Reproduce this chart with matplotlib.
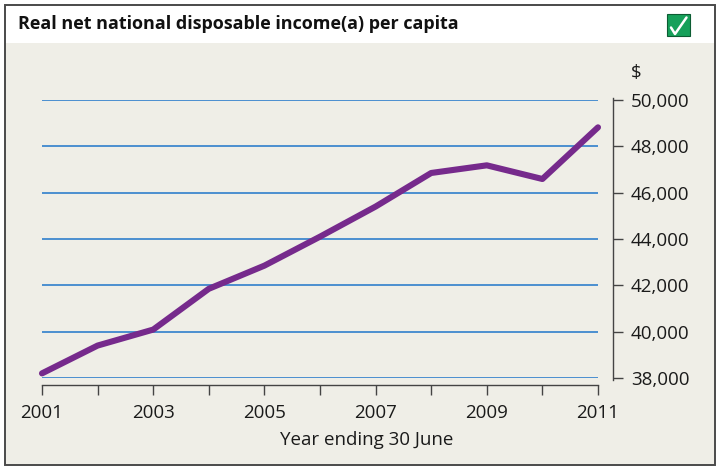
import matplotlib
matplotlib.use("Agg")
import matplotlib.pyplot as plt
from matplotlib.patches import Rectangle
from matplotlib.lines import Line2D

plt.rcParams['font.family'] = ['Open Sans', 'DejaVu Sans']

# Real net national disposable income per capita, year ending 30 June ($)
years = [2001, 2002, 2003, 2004, 2005, 2006, 2007, 2008, 2009, 2010, 2011]
income = [38200, 39400, 40090, 41850, 42850, 44100, 45400, 46850, 47180, 46590, 48820]
year_labels = ['2001', '', '2003', '', '2005', '', '2007', '', '2009', '', '2011']
y_ticks = [38000, 40000, 42000, 44000, 46000, 48000, 50000]

W, H = 718, 468
fig = plt.figure(figsize=(W / 100, H / 100), dpi=100)
fig.patch.set_facecolor('white')

def fx(px):
    return px / W

def fy(py):
    return 1 - py / H

# panel background and title band
fig.add_artist(Rectangle((fx(5), fy(465)), fx(710), (465 - 43) / H,
                         transform=fig.transFigure, facecolor='#efeee7',
                         edgecolor='none', zorder=0))
fig.add_artist(Rectangle((fx(5), fy(465)), fx(710), 460 / H,
                         transform=fig.transFigure, facecolor='none',
                         edgecolor='#4a4a4a', linewidth=1.4, zorder=5))

fig.text(fx(18), fy(24), 'Real net national disposable income(a) per capita',
         fontsize=13, fontweight='bold', color='#111111', va='center', ha='left')

# green tick box
fig.add_artist(Rectangle((fx(667), fy(36)), fx(23), 22 / H,
                         transform=fig.transFigure, facecolor='#16a05a',
                         edgecolor='#0c5c33', linewidth=0.8, zorder=6))
fig.add_artist(Line2D([fx(671), fx(675), fx(686.5)], [fy(27.5), fy(34), fy(17.5)],
                      transform=fig.transFigure, color='white', linewidth=1.8,
                      solid_capstyle='round', solid_joinstyle='round', zorder=7))

ax = fig.add_axes([fx(42), fy(378), fx(598 - 42), (378 - 100) / H])
ax.set_facecolor('none')

for v in y_ticks:
    ax.axhline(v, color='#2f7fcc', linewidth=1.2, zorder=1)

ax.plot(years, income, color='#762a8c', linewidth=4.4, solid_capstyle='round',
        solid_joinstyle='round', clip_on=False, zorder=3)

ax.set_xlim(2001, 2011)
ax.set_ylim(38000, 50000)

for s in ['top', 'left']:
    ax.spines[s].set_visible(False)
ax.spines['bottom'].set_position(('outward', 5))
ax.spines['right'].set_position(('outward', 10.6))
ax.spines['right'].set_bounds(37900, 50100)
for s in ['bottom', 'right']:
    ax.spines[s].set_color('#444444')
    ax.spines[s].set_linewidth(1.0)

ax.set_xticks(years)
ax.set_xticklabels(year_labels)
ax.yaxis.tick_right()
ax.set_yticks(y_ticks)
ax.set_yticklabels([f'{v:,}' for v in y_ticks])

ax.tick_params(axis='x', direction='out', length=7.5, width=1.0, color='#444444',
               pad=6, labelsize=13.5, labelcolor='#1a1a1a')
ax.tick_params(axis='y', direction='out', length=7, width=1.0, color='#444444',
               pad=6, labelsize=13.5, labelcolor='#1a1a1a', right=True, left=False)

fig.text(fx(367), fy(440), 'Year ending 30 June', fontsize=13.5, color='#1a1a1a',
         ha='center', va='center')
fig.text(fx(631), fy(73), '$', fontsize=13.5, color='#1a1a1a', ha='left', va='center')

fig.savefig('out.png', dpi=100, facecolor=fig.get_facecolor())
